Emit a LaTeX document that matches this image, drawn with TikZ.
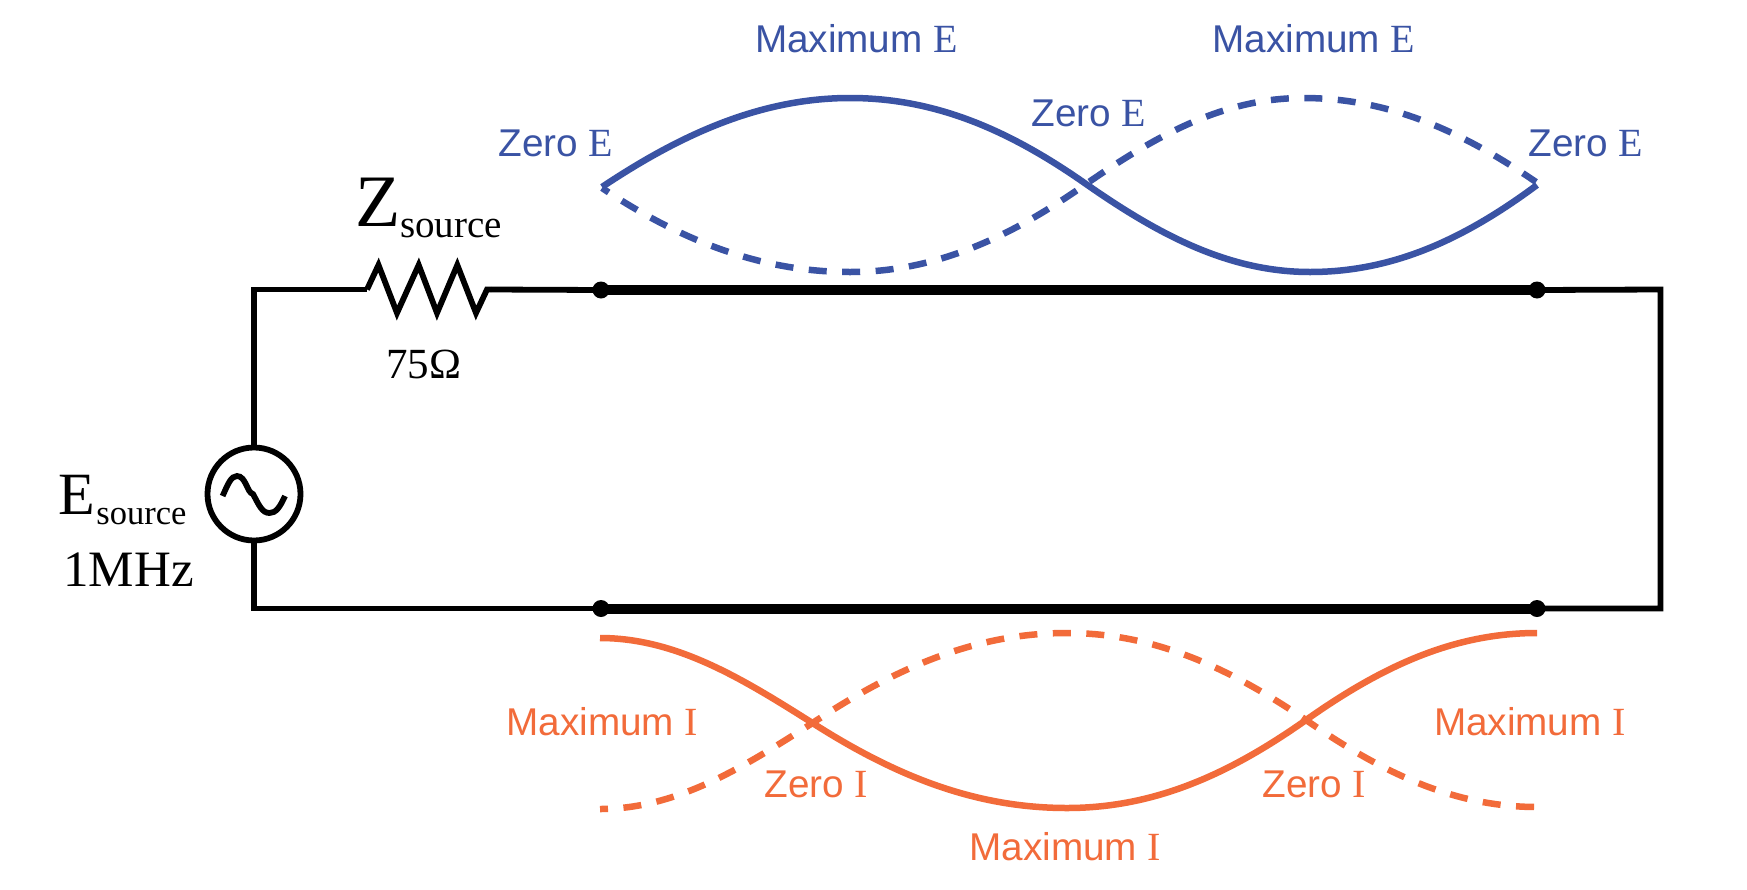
\documentclass[tikz,border=0pt]{standalone}
\usepackage{fontspec}
\setmainfont{Liberation Serif}
\setsansfont{Liberation Sans}
\definecolor{wblue}{HTML}{3A53A4}
\definecolor{worange}{HTML}{F26B3A}
\tikzset{
  wire/.style={draw=black,line width=5.8pt,line join=miter},
  thickwire/.style={draw=black,line width=10pt},
  joint/.style={circle,fill=black,inner sep=0pt,minimum size=17pt},
  wavesolid/.style={line width=6.5pt},
  wavedash/.style={line width=6.5pt,dash pattern=on 18pt off 15.5pt,dash phase=10pt},
  lab/.style={anchor=base west,inner sep=0pt,outer sep=0pt},
  bluelab/.style={lab,text=wblue},
  orangelab/.style={lab,text=worange},
  blacklab/.style={lab,text=black}
}
\newcommand{\wavelab}[2]{{\fontsize{38.7}{40}\selectfont\sffamily #1 \fontsize{40}{41}\selectfont\rmfamily #2}}
\newcommand{\rmlab}[1]{\fontsize{#1}{#1}\selectfont}
\begin{document}
\begin{tikzpicture}[x=1pt,y=-1pt]
\useasboundingbox (0,0) rectangle (1747,889);

% nodes
\node[circle,draw=black,line width=5.8pt,fill=white,inner sep=0pt,minimum size=93pt] (src) at (254,494) {};
\node[joint] (d1) at (601,290) {};
\node[joint] (d2) at (1537,290) {};
\node[joint] (d3) at (601,608.5) {};
\node[joint] (d4) at (1537,608.5) {};
\coordinate (rl) at (367,289.5);
\coordinate (rr) at (491,289.5);
\coordinate (cr1) at (1660.5,289.5);
\coordinate (cr2) at (1660.5,608.5);
\coordinate (be0) at (602,187);
\coordinate (be1) at (1537,185);
\coordinate (de0) at (602,188);
\coordinate (de1) at (1536,182);
\coordinate (bi0) at (600,638);
\coordinate (bi1) at (1537,633);
\coordinate (di0) at (600,809);
\coordinate (di1) at (1537,807);

% circuit
\draw[wire] (src.north) |- (rl);
\draw[wire] (rl) -- (378.5,265) -- (397,313) -- (418.7,265) -- (437,313) -- (457.3,265) -- (476,313) -- (487,289.5) -- (rr);
\draw[wire] (rr) -- (d1.center);
\draw[wire] (src.south) |- (d3.center);
\draw[wire] (d2.center) -- (cr1) -- (cr2) -- (d4.center);
\draw[thickwire] (d1.center) -- (d2.center);
\draw[thickwire] (d3.center) -- (d4.center);
\draw[wire] (222.6,496) .. controls (228,484) and (231,476) .. (237,476)
  .. controls (246,476) and (247,493) .. (253,494)
  .. controls (259,505) and (262,513) .. (269.5,513)
  .. controls (276,513) and (280,507) .. (285,496);

% voltage waves
\draw[wblue,wavesolid] (be0) .. controls (680,135) and (760,98) .. (850,98)
  .. controls (935.4,98) and (1009,130) .. (1086,184)
  .. controls (1159,235) and (1229,272) .. (1310,272)
  .. controls (1392,272) and (1463,240) .. (be1);
\draw[wblue,wavedash] (de0) .. controls (680,240) and (760,272) .. (850,272)
  .. controls (935,272) and (1009,238) .. (1086,184)
  .. controls (1157,135) and (1224,98) .. (1303,98)
  .. controls (1387,98) and (1460,130) .. (de1);

% current waves
\draw[worange,wavesolid] (bi0) .. controls (677,638) and (743.5,679.5) .. (812.5,723)
  .. controls (895.5,776) and (975,808) .. (1067,808)
  .. controls (1153.5,808) and (1228,775) .. (1306,720)
  .. controls (1381,667) and (1453,633) .. (bi1);
\draw[worange,wavedash] (di0) .. controls (677,809) and (743.5,767) .. (812.5,723)
  .. controls (895.5,668) and (975,633) .. (1067,633)
  .. controls (1153.5,633) and (1228,667) .. (1306,720)
  .. controls (1381,772) and (1453,807) .. (di1);

% blue labels
\node[bluelab] (t1) at (498.5,156.7) {\wavelab{Zero}{E}};
\node[bluelab] (t2) at (755,52.7) {\wavelab{Maximum}{E}};
\node[bluelab] (t3) at (1031.5,126.7) {\wavelab{Zero}{E}};
\node[bluelab] (t4) at (1212.5,52.7) {\wavelab{Maximum}{E}};
\node[bluelab] (t5) at (1528.5,156.7) {\wavelab{Zero}{E}};

% orange labels
\node[orangelab] (t6) at (506.4,735) {\wavelab{Maximum}{I}};
\node[orangelab] (t7) at (764.5,797.7) {\wavelab{Zero}{I}};
\node[orangelab] (t8) at (969.3,860.7) {\wavelab{Maximum}{I}};
\node[orangelab] (t9) at (1262.5,797.7) {\wavelab{Zero}{I}};
\node[orangelab] (t10) at (1434,735) {\wavelab{Maximum}{I}};

% black labels
\node[blacklab] (z) at (355.4,226.7) {\rmlab{74}Z};
\node[blacklab] (zs) at (400,237.3) {\rmlab{39}source};
\node[blacklab] (r) at (386.4,378) {\rmlab{43}75Ω};
\node[blacklab] (e) at (58.3,514) {\rmlab{60}E};
\node[blacklab] (es) at (96.4,524) {\rmlab{34.5}source};
\node[blacklab] (f) at (63.4,586) {\rmlab{51}1MHz};
\end{tikzpicture}
\end{document}
